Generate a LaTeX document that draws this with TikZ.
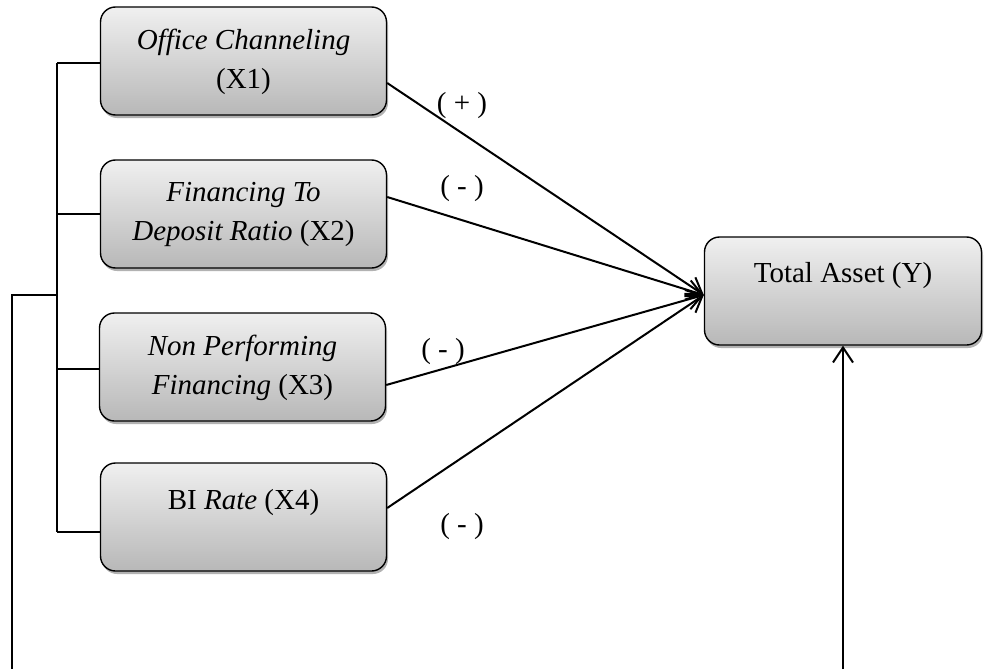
\documentclass[tikz,border=0pt]{standalone}
\usepackage{fontspec}
\setmainfont{Liberation Serif}
\usetikzlibrary{arrows.meta,shadows,calc}
\begin{document}
\begin{tikzpicture}[x=1pt,y=-1pt,
 box/.style={draw=black, line width=1.4pt, rounded corners=15pt, top color=black!6, bottom color=black!28, minimum height=108pt, inner sep=0pt, drop shadow={shadow xshift=1.5pt, shadow yshift=-3pt, opacity=0.3, fill=black}},
 varbox/.style={box, minimum width=286pt},
 txt/.style={align=center, font=\fontsize{29}{39}\selectfont, inner sep=0pt},
 conn/.style={line width=2pt},
 arr/.style={line width=2pt, -{Straight Barb[length=15pt,width=20pt,line width=2pt]}},
 sign/.style={font=\fontsize{29}{34}\selectfont, inner sep=0pt, anchor=base},
]
\useasboundingbox (0,0) rectangle (984,669);

% boxes
\node[varbox] (x1) at (243.5,61) {};
\node[varbox] (x2) at (243.5,214) {};
\node[varbox] (x3) at (242.5,367) {};
\node[varbox] (x4) at (243.5,517) {};
\node[box, minimum width=277pt] (ta) at (843,291) {};

% texts
\node[txt, anchor=north] (t1) at ([yshift=-23pt]x1.north) {\textit{Office Channeling}\\(X1)};
\node[txt, anchor=north] (t2) at ([yshift=-23pt]x2.north) {\textit{Financing To}\\\textit{Deposit Ratio} (X2)};
\node[txt, anchor=north] (t3) at ([yshift=-23pt]x3.north) {\textit{Non Performing}\\\textit{Financing} (X3)};
\node[txt, anchor=base] (t4) at ([yshift=-47pt]x4.north) {BI \textit{Rate} (X4)};
\node[txt, anchor=base] (ty) at ([yshift=-46pt]ta.north) {Total Asset (Y)};

% bracket
\coordinate (bt) at (57,63);
\coordinate (bb) at (57,532);
\coordinate (b3) at (57,369);
\coordinate (bm) at (57,295);
\coordinate (ol) at (12,295);
\coordinate (oe) at (12,669);
\coordinate (ub) at (843,669);
\draw[conn] (bt) -- (bb);
\draw[conn] (bt) -- (bt -| x1.west);
\draw[conn] (x2.west) -- (x2.west -| bt);
\draw[conn] (b3) -- (b3 -| x3.west);
\draw[conn] (bb) -- (bb -| x4.west);
\draw[conn] (bm) -- (ol) -- (oe);

% arrows
\coordinate (tip) at ([yshift=-4pt]ta.west);
\draw[arr] ([yshift=-22pt]x1.east) -- (tip);
\draw[arr] ([yshift=17pt]x2.east) -- (tip);
\draw[arr] ([yshift=-18pt]x3.east) -- (tip);
\draw[arr] ([yshift=9pt]x4.east) -- (tip);
\draw[arr] (ub) -- (ta.south);

% signs
\node[sign] (s1) at (462,112) {( + )};
\node[sign] (s2) at (462,195) {( - )};
\node[sign] (s3) at (443,358) {( - )};
\node[sign] (s4) at (462,533) {( - )};
\end{tikzpicture}
\end{document}
